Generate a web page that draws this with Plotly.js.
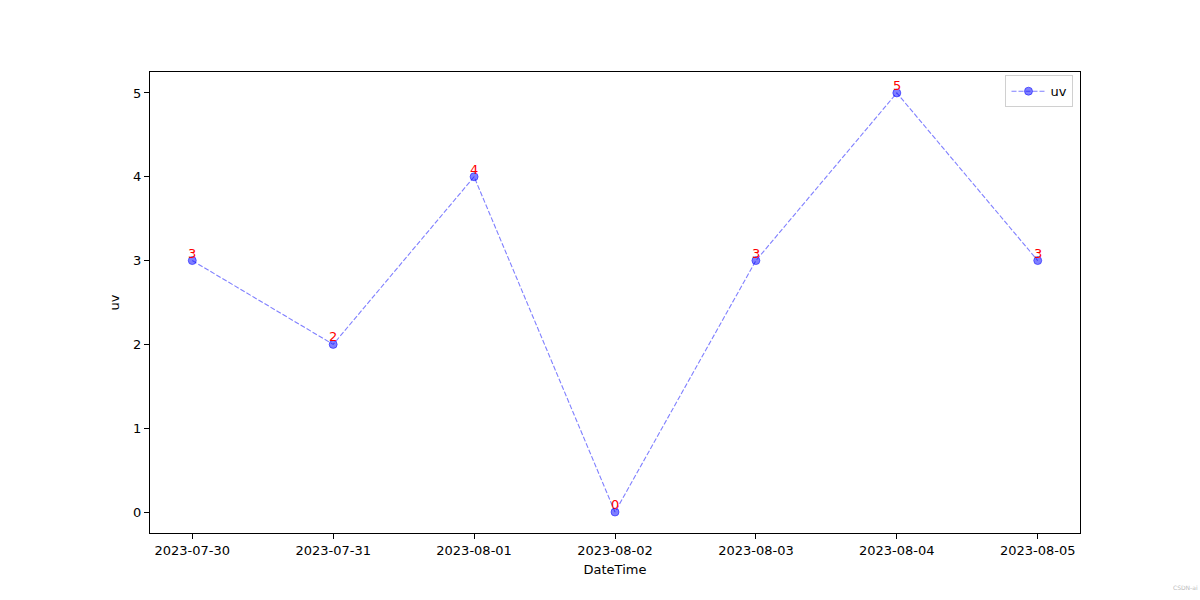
<!DOCTYPE html>
<html>
<head>
<meta charset="utf-8">
<script src="https://cdn.plot.ly/plotly-3.0.1.min.js"></script>
<style>html,body{margin:0;padding:0;background:#fff;}#chart{width:1200px;height:600px;}</style>
</head>
<body>
<div id="chart"></div>
<script>
const dates = ["2023-07-30","2023-07-31","2023-08-01","2023-08-02","2023-08-03","2023-08-04","2023-08-05"];
const uv = [3, 2, 4, 0, 3, 5, 3];
const yTicks = [0, 1, 2, 3, 4, 5];

const font = {family: "DejaVu Sans, sans-serif", size: 13, color: "#000"};

const trace = {
  x: dates, y: uv, type: "scatter", mode: "lines+markers", name: "uv",
  line: {color: "rgba(0,0,255,0.5)", width: 1.1, dash: "5px,2px"},
  marker: {size: 8, color: "rgba(0,0,255,0.5)", line: {color: "rgba(0,0,255,0.5)", width: 1}}
};

const labels = dates.map((d, i) => ({
  x: d, y: uv[i], xref: "x", yref: "y", text: String(uv[i]),
  showarrow: false, xanchor: "center", yanchor: "bottom", yshift: -2,
  font: {family: "DejaVu Sans, sans-serif", size: 13, color: "red"}
}));
labels.push({
  x: 1.113, y: -0.119, xref: "paper", yref: "paper", xanchor: "center", yanchor: "middle",
  text: "CSDN-ai", showarrow: false,
  font: {family: "DejaVu Sans, sans-serif", size: 6, color: "#bbbbbb"}
});

const layout = {
  width: 1200, height: 600,
  margin: {l: 150, r: 120, t: 72, b: 67, pad: 0},
  paper_bgcolor: "#fff", plot_bgcolor: "#fff",
  font: font,
  showlegend: true,
  legend: {x: 0.993, y: 0.993, xanchor: "right", yanchor: "top", bgcolor: "rgba(255,255,255,0.8)",
           bordercolor: "#d0d0d0", borderwidth: 1, font: font, itemwidth: 34},
  xaxis: {
    type: "category", range: [-0.3, 6.3], showgrid: false, zeroline: false,
    showline: true, linecolor: "#000", linewidth: 1, mirror: true,
    ticks: "outside", ticklen: 5, tickcolor: "#000", tickfont: font,
    title: {text: "DateTime", font: font, standoff: 8}
  },
  yaxis: {
    range: [-0.25, 5.25], showgrid: false, zeroline: false,
    showline: true, linecolor: "#000", linewidth: 1, mirror: true,
    ticks: "outside", ticklen: 5, tickcolor: "#000", tickfont: font,
    tickvals: yTicks, ticktext: yTicks.map(String),
    title: {text: "uv", font: font, standoff: 10}
  },
  annotations: labels
};

Plotly.newPlot("chart", [trace], layout, {displayModeBar: false, staticPlot: true});
</script>
</body>
</html>
